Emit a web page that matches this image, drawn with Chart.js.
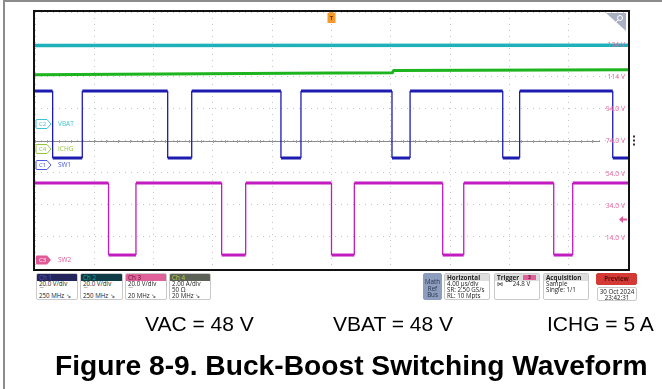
<!DOCTYPE html>
<html><head><meta charset="utf-8">
<script src="https://cdn.jsdelivr.net/npm/chart.js@4/dist/chart.umd.min.js"></script>
<style>
html,body{margin:0;padding:0;background:#fff;}
#wrap{position:relative;width:662px;height:389px;overflow:hidden;font-family:"Liberation Sans",Arial,sans-serif;background:#fff;}
#c{position:absolute;left:0;top:0;}
.fT{position:absolute;left:3px;top:0;width:659px;height:2px;background:#8c8c8c;}
.fL{position:absolute;left:3px;top:0;width:2px;height:389px;background:#8c8c8c;}
.box{position:absolute;top:273px;height:27px;border:1px solid #c9c9c9;border-radius:2px;background:#fff;font-family:"Open Sans","Noto Sans",sans-serif;font-size:6.2px;line-height:6.2px;color:#1a1a1a;overflow:hidden;box-sizing:border-box;}
.hd{height:7px;padding-left:2px;line-height:7px;font-size:6.3px;}
.ln{padding-left:2px;white-space:nowrap;}
.gh{background:#dedede;font-weight:bold;color:#222;}
.cap{position:absolute;top:313px;font-size:21px;line-height:21px;color:#000;white-space:nowrap;}
.ttl{position:absolute;left:55px;top:351px;font-size:28.2px;line-height:28px;font-weight:bold;color:#000;white-space:nowrap;}
</style>
</head><body>
<div id="wrap">
<canvas id="c" width="662" height="389"></canvas>
<div class="fT"></div><div class="fL"></div>

<div class="box" style="left:36px;width:42px;"><div class="hd" style="background:#25255e;color:#4656d8;">Ch 1</div><div class="ln">20.0 V/div</div><div class="ln">⌒</div><div class="ln">250 MHz ↘</div></div>
<div class="box" style="left:80px;width:43px;"><div class="hd" style="background:#0e3b46;color:#1fa3b3;">Ch 2</div><div class="ln">20.0 V/div</div><div class="ln">⌒</div><div class="ln">250 MHz ↘</div></div>
<div class="box" style="left:125px;width:42px;"><div class="hd" style="background:#e0609a;color:#5a1030;">Ch 3</div><div class="ln">20.0 V/div</div><div class="ln">⌒</div><div class="ln">20 MHz ↘</div></div>
<div class="box" style="left:169px;width:42px;"><div class="hd" style="background:#5c6258;color:#b4d23c;">Ch 4</div><div class="ln">2.00 A/div</div><div class="ln">50 Ω</div><div class="ln">20 MHz ↘</div></div>

<div class="box" style="left:423px;width:19px;background:#8d9dbd;border-color:#8d9dbd;text-align:center;padding-top:5px;line-height:6.5px;color:#2a3350;">Math<br>Ref<br>Bus</div>
<div class="box" style="left:444px;width:46px;"><div class="hd gh">Horizontal</div><div class="ln">4.00 µs/div</div><div class="ln">SR: 2.50 GS/s</div><div class="ln">RL: 10 Mpts</div></div>
<div class="box" style="left:494px;width:46px;"><div class="hd gh" style="position:relative;">Trigger<span style="position:absolute;left:28px;top:1px;width:13px;height:5px;background:#e0609a;color:#5a1030;font-size:5px;line-height:5px;text-align:center;">3</span></div><div class="ln">⋈&nbsp;&nbsp;&nbsp;&nbsp;&nbsp;&nbsp;24.8 V</div></div>
<div class="box" style="left:543px;width:46px;"><div class="hd gh">Acquisition</div><div class="ln">Sample</div><div class="ln">Single: 1/1</div></div>
<div class="box" style="left:596px;width:41px;height:12px;background:#d33a35;border-color:#d33a35;text-align:center;font-weight:bold;line-height:10px;color:#5a0a0a;">Preview</div>
<div class="box" style="left:597px;top:287px;width:40px;height:14px;text-align:center;padding-top:1px;">30 Oct 2024<br>23:42:31</div>

<div class="cap" style="left:145px;">VAC = 48 V</div>
<div class="cap" style="left:333px;">VBAT = 48 V</div>
<div class="cap" style="left:547px;">ICHG = 5 A</div>
<div class="ttl">Figure 8-9. Buck-Boost Switching Waveform</div>
</div>

<script>
// ---- data (time in µs, 4 µs/div) ----
const timeRangeUs = [-20, 20];
// Ch2 VBAT (V)
const vbatTimeUs = [-20, 20];
const vbatVolts  = [49.1, 49.3];
// Ch4 ICHG (A)
const ichgTimeUs = [-20, 0, 4.1, 4.2, 20];
const ichgAmps   = [4.60, 4.70, 4.72, 4.86, 4.90];
// Ch1 SW1 (V): switching edges and level in each interval
const sw1EdgesUs = [-18.81, -16.81, -11.05, -9.43, -3.41, -2.06, 4.08, 5.30, 11.55, 12.69, 18.97];
const sw1LevelsV = [45.8, 4.1, 45.8, 4.1, 45.8, 4.1, 45.8, 4.1, 45.8, 4.1, 45.8, 4.1];
// Ch3 SW2 (V)
const sw2EdgesUs = [-15.04, -13.19, -7.41, -5.79, 0.0, 1.54, 7.50, 8.92, 14.99, 16.27];
const sw2LevelsV = [47.5, 2.7, 47.5, 2.7, 47.5, 2.7, 47.5, 2.7, 47.5, 2.7, 47.5];
// Ch3 graticule labels (V), trigger level
const ch3TickValues = [134, 114, 94, 74, 54, 34, 14];
const triggerLevelV = 24.8;

function toPoints(t, v){ return t.map((x,i)=>({x:x, y:v[i]})); }
function stepPoints(edges, levels){
  const pts=[{x:timeRangeUs[0], y:levels[0]}];
  edges.forEach((t,i)=>{ pts.push({x:t,y:levels[i]}); pts.push({x:t,y:levels[i+1]}); });
  pts.push({x:timeRangeUs[1], y:levels[levels.length-1]});
  return pts;
}
const edgeWidth = (thick, thin) => ({ borderWidth: c => (c.p0.parsed.x === c.p1.parsed.x ? thin : thick) });

const decor = {
  id:'decor',
  beforeDatasetsDraw(chart){
    const ctx=chart.ctx, a=chart.chartArea, s=chart.scales;
    const y=Math.round(s.ch3.getPixelForValue(74))+0.5;
    ctx.save();
    ctx.strokeStyle='#8a8a8a'; ctx.lineWidth=1;
    ctx.beginPath(); ctx.moveTo(a.left, y); ctx.lineTo(a.right-28, y); ctx.stroke();
    const dx=(s.x.getPixelForValue(4)-s.x.getPixelForValue(0))/5;
    ctx.strokeStyle='#a0a0a0';
    ctx.beginPath();
    for(let x=a.left; x<a.right-28; x+=dx){ ctx.moveTo(Math.round(x)+0.5, y-1.5); ctx.lineTo(Math.round(x)+0.5, y+1.5); }
    ctx.stroke();
    ctx.restore();
  },
  afterDatasetsDraw(chart){
    const ctx=chart.ctx, a=chart.chartArea, s=chart.scales;
    ctx.save();
    // ch3 graticule labels, from the ch3 scale ticks
    ctx.font='6.8px "Open Sans", sans-serif'; ctx.textAlign='right'; ctx.textBaseline='middle';
    ctx.fillStyle='#e2669c';
    s.ch3.ticks.forEach(t=>{
      if(!ch3TickValues.includes(t.value)) return;
      const txt=(t.value>=100 ? t.value.toFixed(0) : t.value.toFixed(1))+' V';
      ctx.fillText(txt, a.right-3, s.ch3.getPixelForValue(t.value)+1);
    });
    // frame
    ctx.strokeStyle='#111'; ctx.lineWidth=2;
    ctx.strokeRect(a.left-1, a.top-1, a.right-a.left+2, a.bottom-a.top+2);
    // channel tags
    function tag(y, col, filled, txt, label, lcol){
      const x=36, w=15, h=9;
      ctx.beginPath();
      ctx.moveTo(x+1, y-h/2); ctx.lineTo(x+w-4, y-h/2); ctx.lineTo(x+w, y); ctx.lineTo(x+w-4, y+h/2); ctx.lineTo(x+1, y+h/2);
      ctx.quadraticCurveTo(x, y+h/2, x, y+h/2-1); ctx.lineTo(x, y-h/2+1); ctx.quadraticCurveTo(x, y-h/2, x+1, y-h/2);
      ctx.closePath();
      if(filled){ ctx.fillStyle=col; ctx.fill(); } else { ctx.fillStyle='#fff'; ctx.fill(); ctx.strokeStyle=col; ctx.lineWidth=1; ctx.stroke(); }
      ctx.font='6px "Open Sans", sans-serif'; ctx.textBaseline='middle'; ctx.textAlign='left';
      ctx.fillStyle=filled?'#fff':col; ctx.fillText(txt, x+3, y+0.5);
      ctx.fillStyle=lcol; ctx.font='6.5px "Open Sans", sans-serif'; ctx.fillText(label, 58, y+0.5);
    }
    tag(Math.round(s.ch2.getPixelForValue(0)), '#3fc3d3', false, 'C2', 'VBAT', '#3fc3d3');
    tag(Math.round(s.ch4.getPixelForValue(0)), '#96c43a', false, 'C4', 'ICHG', '#96c43a');
    tag(Math.round(s.ch1.getPixelForValue(0)), '#4a5ae0', false, 'C1', 'SW1', '#4a5ae0');
    tag(Math.round(s.ch3.getPixelForValue(0))+1, '#e05a98', true, 'C3', 'SW2', '#e05a98');
    // trigger position marker
    const tx=s.x.getPixelForValue(0);
    ctx.fillStyle='#f39a2a';
    ctx.beginPath(); ctx.moveTo(tx-3, a.top); ctx.lineTo(tx+3, a.top); ctx.lineTo(tx, a.top+2); ctx.closePath(); ctx.fill();
    ctx.fillRect(tx-4, a.top+1, 8, 10);
    ctx.fillStyle='#6a3a00'; ctx.font='bold 6px "Open Sans", sans-serif'; ctx.textAlign='center'; ctx.textBaseline='middle';
    ctx.fillText('T', tx, a.top+6.5);
    // trigger level arrow
    const ty=s.ch3.getPixelForValue(triggerLevelV);
    ctx.fillStyle='#e05a98';
    ctx.beginPath(); ctx.moveTo(a.right-9, ty); ctx.lineTo(a.right-5, ty-3.5); ctx.lineTo(a.right-5, ty+3.5); ctx.closePath(); ctx.fill();
    ctx.fillRect(a.right-5, ty-1, 4, 2);
    // zoom triangle top right
    ctx.fillStyle='#a9b0c2';
    ctx.beginPath(); ctx.moveTo(a.right-22, a.top+1); ctx.lineTo(a.right-2, a.top+1); ctx.lineTo(a.right-2, a.top+19); ctx.closePath(); ctx.fill();
    ctx.strokeStyle='#fff'; ctx.lineWidth=1;
    ctx.beginPath(); ctx.arc(a.right-8, a.top+6, 2.5, 0, Math.PI*2); ctx.stroke();
    ctx.beginPath(); ctx.moveTo(a.right-10, a.top+8); ctx.lineTo(a.right-13, a.top+11); ctx.stroke();
    // side menu dots
    ctx.fillStyle='#333';
    const my=s.ch3.getPixelForValue(74);
    [-4,0,4].forEach(d=>ctx.fillRect(a.right+5, my+d-1, 2, 2));
    ctx.restore();
  }
};

const gridCommon = { color:'#c4c4c4', lineWidth:1, drawTicks:false };

new Chart(document.getElementById('c'), {
  type:'line',
  data:{ datasets:[
    { label:'SW2', data:stepPoints(sw2EdgesUs, sw2LevelsV), yAxisID:'ch3', borderColor:'#c21cc0', pointRadius:0, segment:edgeWidth(3,1.3) },
    { label:'SW1', data:stepPoints(sw1EdgesUs, sw1LevelsV), yAxisID:'ch1', borderColor:'#1c1cb0', pointRadius:0, segment:edgeWidth(3,1.3) },
    { label:'VBAT', data:toPoints(vbatTimeUs, vbatVolts), yAxisID:'ch2', borderColor:'#1fb1b9', borderWidth:3.5, pointRadius:0 },
    { label:'ICHG', data:toPoints(ichgTimeUs, ichgAmps), yAxisID:'ch4', borderColor:'#1db41d', borderWidth:3, pointRadius:0 }
  ]},
  options:{
    responsive:false, animation:false, events:[],
    layout:{ padding:{ left:35, top:12, right:34, bottom:120 }, autoPadding:false },
    plugins:{ legend:{display:false}, tooltip:{enabled:false} },
    elements:{ line:{ tension:0, borderJoinStyle:'miter' } },
    scales:{
      x:{ type:'linear', min:timeRangeUs[0], max:timeRangeUs[1], ticks:{display:false, stepSize:4}, grid:gridCommon, border:{display:false, dash:[1,5]} },
      ch3:{ position:'right', min:-6, max:154, ticks:{display:false, stepSize:20}, grid:gridCommon, border:{display:false, dash:[1,5]} },
      ch1:{ display:false, min:-65, max:95 },
      ch2:{ display:false, min:-90, max:70 },
      ch4:{ display:false, min:-7.5, max:8.5 }
    }
  },
  plugins:[decor]
});
</script>
</body></html>
